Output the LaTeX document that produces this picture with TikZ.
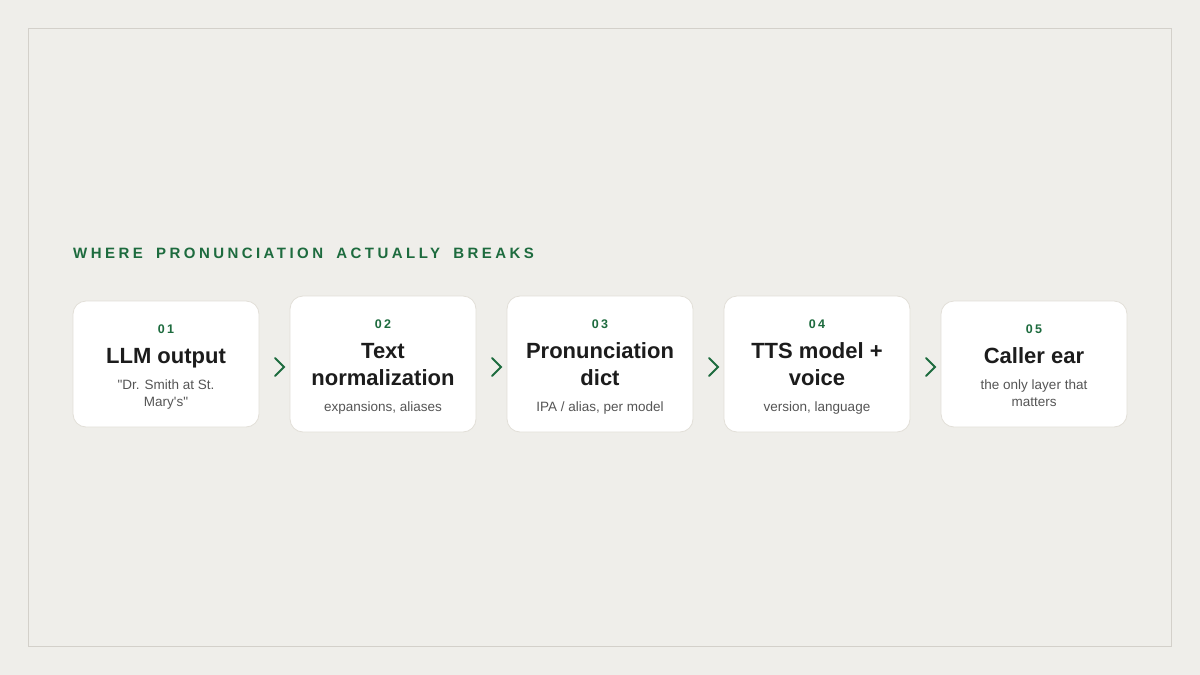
\documentclass[tikz,border=0pt]{standalone}
\usepackage{fontspec}
\usetikzlibrary{calc}
\setmainfont{Liberation Sans}
\newfontfamily\plainfont{Liberation Sans}
\newfontfamily\trackfont[LetterSpace=23,WordSpace=1.75]{Liberation Sans}
\newfontfamily\numfont[LetterSpace=18]{Liberation Sans}
\definecolor{bgc}{HTML}{EFEEEA}
\definecolor{framec}{HTML}{D3D0CA}
\definecolor{boxline}{HTML}{E2DFD8}
\definecolor{greenc}{HTML}{1D6B3E}
\definecolor{darkc}{HTML}{1C1C1C}
\definecolor{subc}{HTML}{555555}
\tikzset{
  stagebox/.style={draw=boxline, line width=0.8pt, fill=white, rounded corners=13pt,
    minimum width=186pt, inner sep=0pt},
  shortbox/.style={stagebox, minimum height=126pt},
  tallbox/.style={stagebox, minimum height=136pt},
  numtxt/.style={anchor=base, inner sep=0pt, text=greenc, font=\numfont\bfseries\fontsize{12.5}{14}\selectfont},
  titletxt/.style={anchor=base, inner sep=0pt, text=darkc, font=\plainfont\bfseries\fontsize{22}{26}\selectfont},
  subtxt/.style={anchor=base, inner sep=0pt, text=subc, font=\plainfont\fontsize{13.5}{16}\selectfont},
  chev/.style={draw=greenc, line width=1.8pt, line cap=round, line join=miter},
}
\begin{document}
\begin{tikzpicture}[x=1pt,y=-1pt]
\fill[bgc] (0,0) rectangle (1200,675);
\useasboundingbox (0,0) rectangle (1200,675);
\draw[framec, line width=1pt] (28.5,28.5) rectangle (1171.5,646.5);
\node[anchor=base west, inner sep=0pt, text=greenc, font=\trackfont\bfseries\fontsize{15}{18}\selectfont] (head) at (73,258.5) {WHERE PRONUNCIATION ACTUALLY BREAKS};

% boxes
\node[shortbox] (b1) at (166,364) {};
\node[tallbox]  (b2) at (383,364) {};
\node[tallbox]  (b3) at (600,364) {};
\node[tallbox]  (b4) at (817,364) {};
\node[shortbox] (b5) at (1034,364) {};

% box 1
\node[numtxt]   (n1) at (166,333) {01};
\node[titletxt] (t1) at (166,363) {LLM output};
\node[subtxt]   (s1a) at (166,389) {"Dr. Smith at St.};
\node[subtxt]   (s1b) at (166,406) {Mary's"};
% box 2
\node[numtxt]   (n2) at (383,328) {02};
\node[titletxt] (t2a) at (383,358) {Text};
\node[titletxt] (t2b) at (383,385) {normalization};
\node[subtxt]   (s2) at (383,411) {expansions, aliases};
% box 3
\node[numtxt]   (n3) at (600,328) {03};
\node[titletxt] (t3a) at (600,358) {Pronunciation};
\node[titletxt] (t3b) at (600,385) {dict};
\node[subtxt]   (s3) at (600,411) {IPA / alias, per model};
% box 4
\node[numtxt]   (n4) at (817,328) {04};
\node[titletxt] (t4a) at (817,358) {TTS model +};
\node[titletxt] (t4b) at (817,385) {voice};
\node[subtxt]   (s4) at (817,411) {version, language};
% box 5
\node[numtxt]   (n5) at (1034,333) {05};
\node[titletxt] (t5) at (1034,363) {Caller ear};
\node[subtxt]   (s5a) at (1034,389) {the only layer that};
\node[subtxt]   (s5b) at (1034,406) {matters};

% chevrons
\foreach \a/\b in {b1/b2,b2/b3,b3/b4,b4/b5}{
  \coordinate (m) at ($(\a.east)!0.5!(\b.west)+(5,3)$);
  \draw[chev] ([shift={(-4.5,-9)}]m) -- ([shift={(4.5,0)}]m) -- ([shift={(-4.5,9)}]m);
}
\end{tikzpicture}
\end{document}
